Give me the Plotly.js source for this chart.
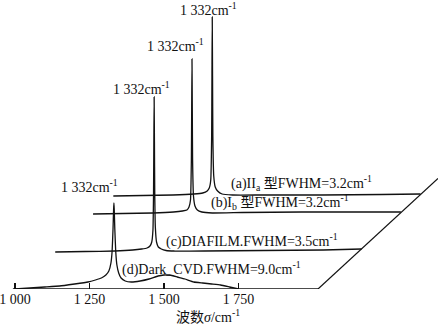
<!DOCTYPE html>
<html>
<head>
<meta charset="utf-8">
<script src="https://cdn.plot.ly/plotly-3.0.1.min.js"></script>
<style>html,body{margin:0;padding:0;background:#fff}#chart{width:438px;height:324px}</style>
</head>
<body>
<div id="chart"></div>
<script>
// ---- Data (Raman spectra, own wavenumber / relative intensity) ----
const seriesLabels = [
  "(a)II<sub>a</sub> 型FWHM=3.2cm<sup>-1</sup>",
  "(b)I<sub>b</sub> 型FWHM=3.2cm<sup>-1</sup>",
  "(c)DIAFILM.FWHM=3.5cm<sup>-1</sup>",
  "(d)Dark_CVD.FWHM=9.0cm<sup>-1</sup>"
];
const peakLabel = "1 332cm<sup>-1</sup>";
const axisTitle = "波数<i>σ</i>/cm<sup>-1</sup>";
const tickValues = [1000, 1250, 1500, 1750];
const tickLabels = ["1 000", "1 250", "1 500", "1 750"];

const aWave = [1000, 1100, 1200, 1270, 1300, 1315, 1322, 1327, 1330, 1331, 1332, 1333, 1334, 1337, 1342, 1350, 1365, 1400, 1500, 1700, 1900, 2031];
const aInt  = [0, 0.5, 1, 2, 3, 5, 8, 16, 60, 120, 179, 120, 60, 20, 9, 5, 2, 1, 1, 1, 1.5, 2];

const bWave = [1000, 1100, 1200, 1270, 1300, 1315, 1322, 1327, 1330, 1331, 1332, 1333, 1334, 1337, 1342, 1350, 1365, 1400, 1500, 1700, 1900, 2033];
const bInt  = [0, 0.5, 1, 2, 3, 4, 7, 14, 55, 105, 155, 105, 55, 18, 8, 4, 2, 1, 1.5, 2, 2, 2];

const cWave = [1000, 1100, 1200, 1260, 1290, 1308, 1318, 1324, 1328, 1330, 1331, 1332, 1333, 1334, 1336, 1340, 1346, 1356, 1372, 1400, 1500, 1700, 1900, 2028];
const cInt  = [0, 0.5, 1, 2, 3, 4, 6, 10, 22, 60, 110, 155, 110, 60, 25, 10, 5, 3, 1.5, 1, 1, 1.5, 2, 3];

const dWave = [1000, 1050, 1100, 1150, 1200, 1245, 1270, 1290, 1305, 1315, 1322, 1326, 1329, 1331, 1332, 1333, 1335, 1338, 1342, 1348, 1356, 1370, 1390, 1420, 1450, 1480, 1500, 1520, 1545, 1570, 1600, 1630, 1660, 1690, 1720, 1750];
const dInt  = [0, 1, 2, 3, 5, 7, 9, 11, 14, 18, 26, 38, 60, 80, 86, 80, 60, 38, 24, 16, 11, 8, 7, 8, 10, 13, 14, 14, 12, 10, 7, 6, 5, 4, 2, 0];

// ---- Waterfall drawing ----
const waves = [aWave, bWave, cWave, dWave];
const ints  = [aInt, bInt, cInt, dInt];
const shiftX = [330, 262, 135, 0];   // waterfall shift (cm^-1)
const shiftY = [93, 75, 37, 0];      // waterfall shift (intensity units)

const traces = waves.map((w, i) => ({
  type: 'scatter', mode: 'lines',
  x: w.map(v => v + shiftX[i]),
  y: ints[i].map(v => v + shiftY[i]),
  line: {color: '#111', width: 1.3, shape: 'spline', smoothing: 0.4},
  hoverinfo: 'skip'
}));

const serif = "Liberation Serif, Times New Roman, Noto Sans CJK SC, serif";
const fs = 14;
const floorEnd = 2017;
const xMin = 949.7, xMax = 2419.6;

const annotations = [
  {x: 1648, y: 280, text: peakLabel},
  {x: 1540, y: 244, text: peakLabel},
  {x: 1426, y: 201, text: peakLabel},
  {x: 1250, y: 103, text: peakLabel},
  {x: 1963, y: 106, text: seriesLabels[0]},
  {x: 1889, y: 87,  text: seriesLabels[1]},
  {x: 1795, y: 49,  text: seriesLabels[2]},
  {x: 1658, y: 21,  text: seriesLabels[3]}
].map(a => Object.assign({
  xref: 'x', yref: 'y', showarrow: false, xanchor: 'center', yanchor: 'middle',
  font: {family: serif, size: fs, color: '#111'}
}, a));

annotations.push({
  xref: 'paper', yref: 'paper', x: 208 / 438, y: -27 / 289,
  xanchor: 'center', yanchor: 'middle', showarrow: false,
  text: axisTitle, font: {family: serif, size: fs, color: '#111'}
});

const layout = {
  width: 438, height: 324,
  margin: {l: 0, r: 0, t: 0, b: 35, pad: 0},
  paper_bgcolor: '#fff', plot_bgcolor: '#fff',
  showlegend: false,
  xaxis: {
    range: [xMin, xMax], showgrid: false, zeroline: false, showline: false,
    tickvals: tickValues, ticktext: tickLabels,
    ticks: 'inside', ticklen: 6, tickwidth: 1.2, tickcolor: '#111',
    tickfont: {family: serif, size: fs, color: '#111'},
    ticklabeloverflow: 'allow',
    automargin: false, fixedrange: true
  },
  yaxis: {range: [0, 289], visible: false, fixedrange: true},
  shapes: [
    {type: 'line', xref: 'x', yref: 'y', x0: 993, y0: 0, x1: floorEnd, y1: 0, line: {color: '#111', width: 1.3}},
    {type: 'line', xref: 'x', yref: 'y', x0: floorEnd, y0: 0, x1: xMax, y1: 110.5, line: {color: '#111', width: 1.2}}
  ],
  annotations: annotations
};

Plotly.newPlot('chart', traces, layout, {staticPlot: true, displayModeBar: false});
</script>
</body>
</html>
